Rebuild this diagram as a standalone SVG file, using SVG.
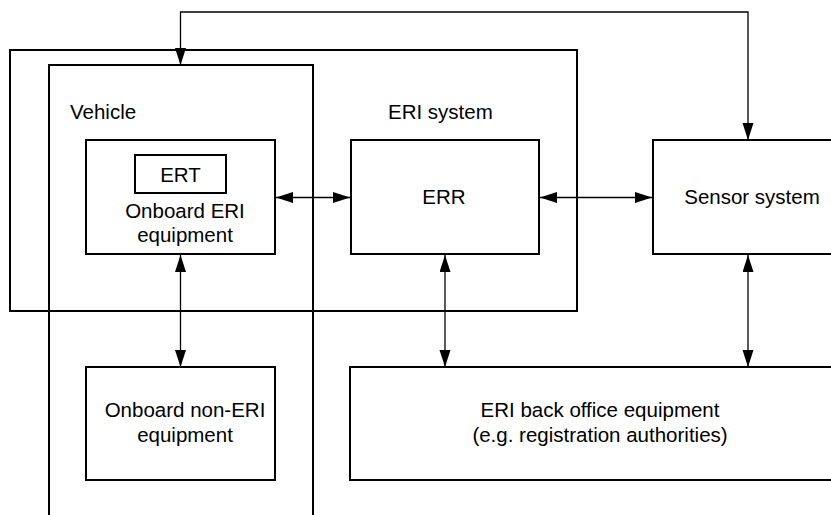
<svg xmlns="http://www.w3.org/2000/svg" width="831" height="515" viewBox="0 0 831 515">
  <style>
    .box { fill: none; stroke: #000; stroke-width: 2; }
    .lbl { font-family: "Liberation Sans", Arial, sans-serif; font-size: 20.5px; fill: #000; }
    .mid { text-anchor: middle; }
    .link { fill: none; stroke: #000; stroke-width: 1.3; marker-start: url(#head); marker-end: url(#head); }
  </style>
  <defs>
    <marker id="head" markerUnits="userSpaceOnUse" markerWidth="18" markerHeight="12" refX="17" refY="5.5" orient="auto-start-reverse">
      <path d="M0,0 L17,5.5 L0,11 Z" fill="#000"/>
    </marker>
  </defs>
  <rect width="831" height="515" fill="#fff"/>

  <g id="eri-system">
    <rect class="box" x="10" y="50" width="567" height="261"/>
    <text class="lbl" x="388" y="119">ERI system</text>
  </g>

  <g id="vehicle">
    <rect class="box" x="49" y="65" width="264" height="480"/>
    <text class="lbl" x="70" y="119">Vehicle</text>
  </g>

  <g id="onboard-eri">
    <rect class="box" x="86" y="140" width="189" height="114"/>
    <text class="lbl mid" x="185" y="218">Onboard ERI</text>
    <text class="lbl mid" x="185" y="242">equipment</text>
  </g>

  <g id="ert">
    <rect class="box" x="135" y="155" width="91" height="38"/>
    <text class="lbl mid" x="180.5" y="182">ERT</text>
  </g>

  <g id="err">
    <rect class="box" x="351" y="140" width="188" height="114"/>
    <text class="lbl mid" x="444" y="203.5">ERR</text>
  </g>

  <g id="sensor-system">
    <rect class="box" x="653" y="140" width="200" height="114"/>
    <text class="lbl mid" x="752" y="203.5">Sensor system</text>
  </g>

  <g id="onboard-non-eri">
    <rect class="box" x="86" y="367" width="189" height="113"/>
    <text class="lbl mid" x="185" y="417">Onboard non-ERI</text>
    <text class="lbl mid" x="185" y="442">equipment</text>
  </g>

  <g id="back-office">
    <rect class="box" x="350" y="367" width="500" height="113"/>
    <text class="lbl mid" x="600" y="417">ERI back office equipment</text>
    <text class="lbl mid" x="600" y="442">(e.g. registration authorities)</text>
  </g>

  <g id="connectors">
    <path class="link" d="M748,140 V12 H180.5 V65"/>
    <path class="link" d="M276,197.5 H350"/>
    <path class="link" d="M540,197.5 H652"/>
    <path class="link" d="M180.5,255 V367"/>
    <path class="link" d="M445,255 V367"/>
    <path class="link" d="M748,255 V367"/>
  </g>
</svg>
